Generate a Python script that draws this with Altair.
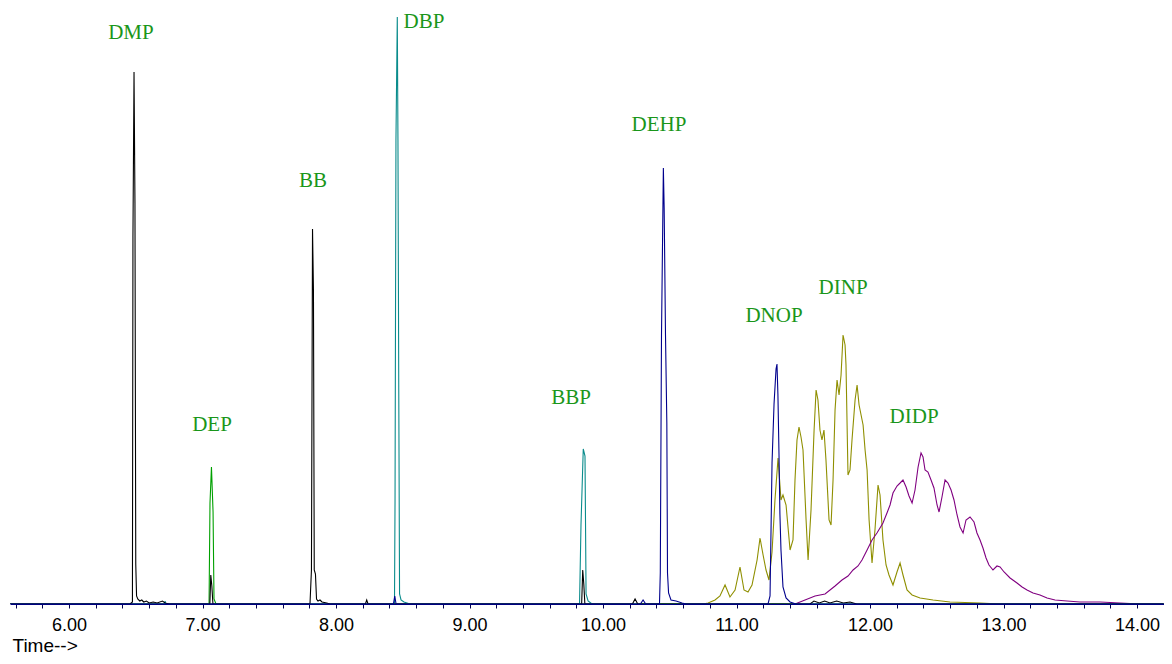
import altair as alt
import pandas as pd

# ---- chromatogram traces: (retention time [min], abundance [arb. units]) ----
BLACK = [
    (5.56, 0), (6.457, 0), (6.475, 2), (6.479, 367), (6.487, 532), (6.494, 401), (6.500, 40),
    (6.506, 8), (6.515, 5), (6.530, 3), (6.545, 4), (6.560, 2), (6.580, 3), (6.600, 1),
    (6.630, 2), (6.660, 1), (6.700, 3), (6.720, 1), (6.750, 0),
    (7.055, 0), (7.062, 29), (7.070, 18), (7.078, 0),
    (7.805, 0), (7.816, 34), (7.824, 375), (7.831, 314), (7.837, 34), (7.846, 30), (7.854, 5),
    (7.865, 3), (7.880, 4), (7.895, 2), (7.930, 1), (7.955, 0),
    (8.220, 0), (8.230, 4), (8.240, 0),
    (9.840, 0), (9.848, 34), (9.856, 20), (9.864, 0),
    (10.220, 0), (10.240, 5), (10.260, 0),
    (11.550, 0), (11.580, 3), (11.620, 1), (11.660, 3), (11.700, 1), (11.750, 3), (11.800, 1),
    (11.850, 2), (11.900, 0), (14.20, 0),
]
GREEN = [
    (5.56, 0), (7.049, 0), (7.056, 101), (7.067, 137), (7.079, 92), (7.086, 5), (7.101, 0), (14.20, 0),
]
TEAL = [
    (5.56, 0), (6.715, 0), (6.720, 3), (6.725, 0),
    (8.438, 0), (8.442, 101), (8.449, 464), (8.459, 587), (8.464, 464), (8.470, 214), (8.476, 10),
    (8.487, 4), (8.509, 2), (8.554, 0),
    (9.824, 0), (9.835, 79), (9.852, 155), (9.865, 148), (9.873, 10), (9.888, 3), (9.918, 0),
    (14.20, 0),
]
NAVY = [
    (5.56, 0), (8.430, 0), (8.440, 8), (8.450, 0), (10.280, 0), (10.300, 4), (10.320, 0),
    (10.423, 0), (10.429, 31), (10.438, 269), (10.452, 436), (10.458, 396), (10.468, 269),
    (10.478, 181), (10.483, 31), (10.491, 11), (10.509, 4), (10.547, 3), (10.592, 1), (10.622, 0),
    (11.236, 0), (11.251, 8), (11.266, 141), (11.281, 200), (11.296, 235), (11.303, 240),
    (11.310, 210), (11.318, 151), (11.325, 90), (11.333, 54), (11.348, 17), (11.371, 6),
    (11.401, 2), (11.445, 0), (14.20, 0),
]
OLIVE = [
    (5.56, 0), (10.750, 0), (10.787, 1), (10.839, 4), (10.876, 8), (10.914, 19), (10.951, 7),
    (10.989, 14), (11.026, 37), (11.056, 14), (11.086, 12), (11.116, 19), (11.154, 44),
    (11.176, 66), (11.199, 49), (11.221, 34), (11.243, 24), (11.266, 52), (11.288, 104),
    (11.311, 146), (11.333, 104), (11.348, 109), (11.371, 99), (11.401, 54), (11.423, 64),
    (11.438, 124), (11.453, 164), (11.468, 177), (11.483, 167), (11.498, 154), (11.521, 84),
    (11.536, 44), (11.558, 94), (11.581, 174), (11.596, 214), (11.610, 204), (11.625, 174),
    (11.640, 164), (11.655, 174), (11.670, 144), (11.693, 84), (11.708, 79), (11.723, 124),
    (11.738, 194), (11.753, 224), (11.768, 209), (11.783, 229), (11.798, 269), (11.813, 259),
    (11.820, 239), (11.835, 129), (11.850, 134), (11.865, 164), (11.888, 204), (11.903, 219),
    (11.918, 199), (11.933, 189), (11.948, 179), (11.963, 154), (11.978, 134), (11.993, 84),
    (12.015, 41), (12.037, 74), (12.060, 119), (12.075, 109), (12.097, 64), (12.120, 39),
    (12.142, 29), (12.172, 19), (12.202, 32), (12.225, 41), (12.247, 29), (12.277, 14),
    (12.315, 9), (12.375, 6), (12.472, 4), (12.599, 2), (12.824, 1), (12.974, 0), (14.20, 0),
]
PURPLE = [
    (5.56, 0), (11.438, 0), (11.513, 4), (11.588, 8), (11.663, 10), (11.738, 18), (11.790, 24),
    (11.835, 28), (11.873, 34), (11.910, 38), (11.940, 44), (11.978, 54), (12.015, 64),
    (12.052, 71), (12.097, 81), (12.127, 91), (12.150, 99), (12.172, 111), (12.202, 118),
    (12.225, 121), (12.247, 124), (12.270, 117), (12.292, 108), (12.315, 101), (12.337, 114),
    (12.360, 137), (12.382, 151), (12.397, 147), (12.412, 134), (12.434, 132), (12.457, 124),
    (12.479, 116), (12.502, 99), (12.517, 92), (12.539, 107), (12.562, 124), (12.584, 121),
    (12.607, 114), (12.629, 104), (12.652, 89), (12.674, 77), (12.697, 71), (12.719, 84),
    (12.749, 87), (12.779, 82), (12.801, 71), (12.824, 64), (12.846, 56), (12.869, 46),
    (12.891, 39), (12.921, 34), (12.951, 38), (12.974, 37), (13.004, 32), (13.049, 26),
    (13.101, 21), (13.139, 17), (13.176, 14), (13.221, 11), (13.273, 9), (13.326, 6),
    (13.386, 4), (13.476, 3), (13.573, 2), (13.723, 2), (13.873, 1), (14.022, 0), (14.20, 0),
]

# drawing order (first = bottom)
SERIES = [
    ("olive", OLIVE, "#8f8f00"),
    ("purple", PURPLE, "#800080"),
    ("green", GREEN, "#00a000"),
    ("teal", TEAL, "#0a8c8c"),
    ("black", BLACK, "#000000"),
    ("navy", NAVY, "#00008c"),
]

# ---- peak labels ----
LABELS = ["DMP", "DEP", "BB", "DBP", "BBP", "DEHP", "DNOP", "DINP", "DIDP"]
LABEL_T = [6.464, 7.071, 7.828, 8.659, 9.760, 10.419, 11.281, 11.798, 12.330]
LABEL_V = [571, 179, 423, 582, 206, 479, 288, 316, 187]

TICKS = [5.6, 5.8, 6.0, 6.2, 6.4, 6.6, 6.8, 7.0, 7.2, 7.4, 7.6, 7.8, 8.0, 8.2, 8.4, 8.6, 8.8,
         9.0, 9.2, 9.4, 9.6, 9.8, 10.0, 10.2, 10.4, 10.6, 10.8, 11.0, 11.2, 11.4, 11.6, 11.8,
         12.0, 12.2, 12.4, 12.6, 12.8, 13.0, 13.2, 13.4, 13.6, 13.8, 14.0, 14.2]

x_enc = alt.X(
    "t:Q",
    scale=alt.Scale(domain=[5.558, 14.202], nice=False, zero=False),
    axis=alt.Axis(
        values=TICKS,
        labelExpr="abs(datum.value - round(datum.value)) < 0.001 ? format(datum.value, '.2f') : ''",
        title="Time-->",
        grid=False,
        domainColor="#000080",
        domainWidth=1.2,
        tickColor="#000050",
        tickSize=4,
        tickWidth=1,
        labelFont="Liberation Sans",
        labelFontSize=18,
        labelColor="#000000",
        labelPadding=8,
        labelOverlap=False,
        labelFlush=False,
        titleFont="Liberation Sans",
        titleFontSize=19,
        titleFontWeight="normal",
        titleColor="#000000",
        titleAnchor="start",
        titleAlign="left",
        titleBaseline="alphabetic",
        titleX=2,
        titleY=47,
    ),
)
y_enc = alt.Y("v:Q", scale=alt.Scale(domain=[0, 596], nice=False, zero=True), axis=None)

layers = []
for name, pts, col in SERIES:
    df = pd.DataFrame(pts, columns=["t", "v"])
    layers.append(
        alt.Chart(df).mark_line(color=col, strokeWidth=1.1, clip=True).encode(x=x_enc, y=y_enc)
    )

lab_df = pd.DataFrame({"name": LABELS, "t": LABEL_T, "v": LABEL_V})
text = alt.Chart(lab_df).mark_text(
    font="Liberation Serif", fontSize=21, color="#1a961a", align="center", baseline="middle"
).encode(x=x_enc, y=y_enc, text="name:N")

chart = alt.layer(*layers, text).properties(
    width=1154,
    height=596,
    padding={"left": 2, "top": 0, "right": 0, "bottom": 52},
    autosize=alt.AutoSizeParams(type="none"),
).configure_view(stroke=None)

chart.save("out.html", embed_options={"renderer": "svg", "actions": False})
